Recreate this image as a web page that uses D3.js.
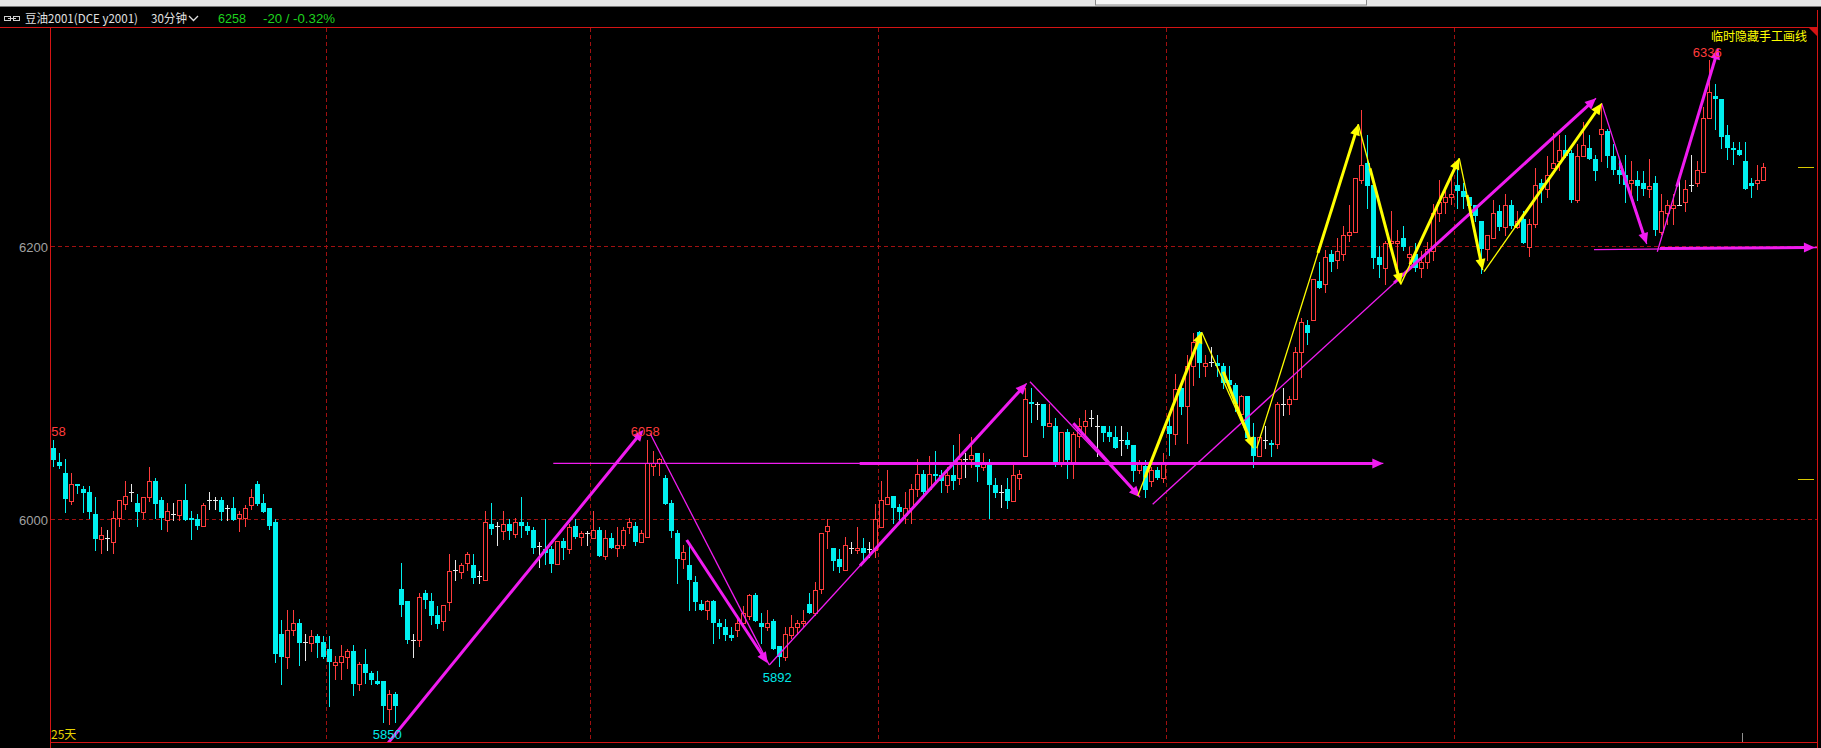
<!DOCTYPE html>
<html><head><meta charset="utf-8">
<script src="https://cdn.jsdelivr.net/npm/d3@7"></script>
<style>html,body{margin:0;padding:0;background:#000;overflow:hidden}svg{display:block}</style>
</head><body>
<script>
// ---------- data (30-minute bars, 豆油2001) ----------
const openP = [6052,6042,6034,6013,6026,6022,6020,6004,5985,5986,5983,6001,6011,6020,6012,6005,6016,6028,6014,5999,6004,6003,6014,6001,6000,5995,6014,6014,6014,6008,6008,6001,6001,6010,6026,6012,6008,
5998,5916,5899,5919,5924,5910,5909,5914,5910,5905,5893,5895,5899,5903,5879,5894,5887,5881,5881,5861,5872,5949,5940,5911,5911,5946,5940,5930,5925,5939,5963,5961,5968,5966,5958,5955,5996,5995,5991,5996,5989,
5998,5995,5992,5980,5978,5978,5967,5984,5978,5995,5987,5990,5986,5992,5973,5986,5979,5981,5994,5995,5983,5987,6039,6041,6030,6012,5990,5971,5966,5954,5938,5933,5940,5924,5921,5915,5919,5924,5929,5944,5924,5921,5925,5907,5899,5915,5921,5924,5938,5931,5949,5991,5979,5971,5963,
5979,5977,5979,5978,5977,5994,6011,6017,6009,6003,6008,6022,6033,6022,6033,6032,6025,6032,6030,6044,6044,6048,6038,6042,6025,6020,6022,6013,6030,6046,6086,6084,6084,6068,6068,6041,6064,6041,6061,6068,6074,6068,6068,6064,6060,6058,6058,6054,6036,6039,6028,6036,6030,
6068,6062,6096,6083,6112,6137,6112,6115,6114,6112,6102,6098,6077,6090,6060,6046,6058,6056,6055,6084,6084,6088,6122,6142,6146,6174,6172,6194,6190,6194,6208,6210,6248,6261,6245,6192,6184,6202,6202,6206,6192,6194,6184,6188,6196,6224,6232,6236,
6245,6240,6236,6230,6218,6198,6206,6226,6214,6230,6214,6220,6199,6216,6246,6242,6257,6262,6270,6268,6234,6266,6272,6264,6282,6284,6266,6256,6252,6246,6248,6246,6242,6246,6210,6224,6228,6230,6232,6245,6246,6254,6294,6310,6308,6281,6272,6270,6262,6246,6246,6248];
const highP = [6058,6048,6044,6034,6026,6024,6024,6016,5994,5992,6006,6014,6028,6026,6018,6016,6038,6030,6016,6012,6012,6014,6026,6006,6004,6012,6020,6016,6016,6010,6016,6006,6010,6022,6028,6018,6008,
6000,5926,5933,5933,5927,5916,5919,5916,5914,5914,5900,5908,5905,5908,5895,5905,5889,5889,5881,5875,5873,5968,5940,5916,5946,5948,5946,5936,5937,5974,5970,5968,5976,5974,5962,6006,6012,5998,6006,6000,6001,
6016,5998,5994,5983,6000,5980,5984,5986,5996,6000,5991,5991,6006,5994,5992,5990,5994,5994,6001,5998,5992,6058,6050,6045,6032,6014,5992,5981,5982,5958,5941,5941,5941,5927,5927,5921,5930,5936,5945,5946,5931,5933,5927,5907,5921,5930,5926,5933,5946,5954,5990,6000,5979,5978,5987,
5983,5994,5986,5983,6011,6028,6036,6017,6011,6020,6026,6044,6036,6046,6050,6036,6038,6054,6062,6048,6060,6048,6048,6044,6030,6025,6030,6042,6036,6096,6096,6086,6084,6084,6074,6064,6066,6064,6074,6080,6080,6076,6068,6068,6068,6068,6064,6054,6043,6043,6038,6038,6048,
6077,6106,6098,6120,6136,6138,6120,6126,6120,6114,6112,6100,6091,6090,6070,6060,6068,6058,6086,6096,6090,6126,6147,6146,6176,6188,6197,6197,6206,6215,6230,6250,6300,6281,6245,6200,6204,6226,6212,6215,6199,6202,6196,6203,6231,6248,6240,6250,
6263,6246,6236,6230,6218,6208,6234,6230,6238,6234,6226,6226,6220,6257,6249,6266,6283,6281,6281,6270,6275,6291,6281,6267,6304,6286,6275,6263,6267,6262,6255,6255,6264,6251,6238,6234,6238,6248,6248,6267,6262,6302,6336,6319,6308,6289,6276,6276,6276,6250,6259,6261];
const lowP = [6039,6037,6005,6011,6019,6005,6001,5977,5975,5977,5975,5995,6007,6013,5995,6001,6013,6001,5993,5991,5999,5999,5999,5985,5993,5995,6007,6007,5999,5999,5999,5991,5995,6007,6010,6005,5993,
5895,5879,5891,5915,5893,5897,5903,5899,5898,5863,5883,5883,5891,5871,5875,5880,5879,5879,5851,5850,5851,5929,5909,5899,5907,5935,5923,5920,5919,5933,5955,5957,5963,5953,5953,5955,5989,5981,5985,5985,5987,
5987,5989,5975,5965,5967,5961,5967,5971,5975,5986,5981,5981,5986,5973,5971,5979,5973,5979,5990,5981,5983,5987,6032,6032,6011,5987,5953,5964,5933,5933,5933,5927,5909,5913,5911,5911,5914,5921,5927,5925,5909,5919,5905,5892,5897,5913,5916,5921,5931,5930,5946,5979,5963,5961,5963,
5975,5975,5970,5972,5972,5994,6011,5997,5997,5997,5997,6017,6017,6022,6028,6020,6020,6022,6026,6031,6038,6028,6036,6001,6016,6009,6008,6013,6022,6046,6071,6073,6060,6068,6039,6039,6030,6030,6053,6062,6068,6046,6057,6057,6052,6047,6052,6028,6034,6016,6024,6029,6027,
6047,6055,6077,6056,6098,6104,6105,6112,6105,6096,6096,6079,6075,6057,6038,6046,6052,6046,6052,6076,6077,6088,6104,6128,6146,6169,6166,6182,6184,6190,6204,6210,6246,6228,6184,6177,6172,6200,6182,6197,6184,6182,6177,6184,6190,6218,6224,6231,
6228,6228,6223,6218,6180,6190,6206,6212,6208,6213,6213,6202,6193,6214,6232,6236,6257,6256,6265,6232,6232,6266,6264,6248,6262,6258,6253,6246,6232,6236,6234,6237,6236,6208,6209,6216,6216,6230,6226,6240,6244,6254,6294,6286,6272,6264,6260,6267,6242,6236,6242,6248];
const closeP = [6043,6039,6015,6026,6024,6019,6005,5985,5988,5986,6001,6014,6017,6020,6005,6016,6028,6011,6001,6006,6004,6014,5999,5999,5995,6010,6014,6014,6005,6008,5999,6004,6008,6016,6011,6005,5995,
5901,5899,5919,5924,5909,5910,5914,5909,5899,5895,5895,5900,5903,5879,5894,5887,5882,5879,5863,5872,5863,5937,5911,5911,5943,5941,5929,5923,5937,5962,5963,5966,5974,5957,5958,5998,5993,5995,5996,5991,5998,
5995,5991,5979,5980,5975,5967,5984,5979,5994,5987,5990,5990,5992,5973,5986,5979,5981,5992,5998,5983,5990,6041,6041,6044,6011,5991,5971,5976,5955,5939,5933,5940,5924,5921,5915,5913,5924,5931,5944,5925,5921,5924,5905,5899,5916,5921,5924,5925,5931,5948,5990,5995,5969,5965,5981,
5979,5979,5975,5978,6000,6014,6016,6008,6005,6008,6022,6033,6020,6033,6032,6028,6032,6028,6044,6044,6047,6038,6042,6025,6019,6020,6013,6032,6033,6088,6084,6084,6068,6070,6041,6064,6043,6062,6068,6072,6074,6068,6063,6060,6052,6058,6054,6035,6040,6021,6036,6030,6040,
6062,6095,6082,6112,6130,6114,6114,6115,6112,6100,6098,6084,6090,6059,6046,6060,6058,6054,6084,6084,6088,6122,6144,6136,6176,6169,6192,6188,6196,6208,6210,6250,6259,6244,6191,6186,6202,6204,6204,6199,6194,6184,6188,6198,6224,6232,6236,6238,
6240,6236,6229,6222,6198,6208,6224,6214,6230,6215,6218,6202,6216,6245,6242,6252,6261,6270,6266,6234,6266,6274,6264,6255,6286,6266,6256,6252,6245,6248,6244,6242,6244,6212,6226,6230,6230,6230,6242,6245,6256,6294,6313,6308,6280,6272,6270,6267,6242,6244,6248,6258];

const yTicks = [6000, 6200];
const weekBreaks = [45.5, 89.5, 137.5, 185.5, 233.5];       // between bars
// extreme labels: [bar index, price, "up"/"down", colour]
const extremeLabels = [[0,6058,"up","#ff3c3c"],[56,5850,"down","#00e8e8"],[99,6058,"up","#ff3c3c"],[121,5892,"down","#00e8e8"],[276,6336,"up","#ff3c3c"]];
// hand-drawn lines in data space: [bar1, price1, bar2, price2]
const magentaThin = [[99.45,6062.8,119.33,5893.0],[119.33,5893.0,162.23,6099.4],[162.78,6100.6,181.12,6015.9],
  [83.33,6040.7,221.67,6040.7],[183.23,6010.8,257.12,6308.2],[258.07,6304.5,265.57,6201.5],[267.33,6195.8,277.5,6344.8],[256.78,6197.4,293.95,6198.9]];
const magentaArrows = [[55.45,5834,98.33,6065.2],[105.57,5984.6,119.07,5894.3],[134.45,5965.8,162.23,6099.4],[170.0,6070.1,181.12,6015.9],
  [134.4,6040.7,221.67,6040.7],[223.45,6172.9,257.12,6308.2],[261.12,6260.6,265.57,6201.5],[270.57,6243.5,277.5,6344.8],[267.78,6198.2,293.6,6198.9]];
const yellowThin = [[180.73,6016.8,191.4,6136.8],[191.4,6136.8,200.0,6051.8],[200.57,6051.8,217.5,6289.2],[217.5,6289.2,224.57,6171.9],
  [224.57,6171.9,234.33,6264.2],[234.33,6264.2,238.23,6182.4],[238.45,6181.2,258.07,6304.5]];
const yellowArrows = [[181.95,6030.5,191.4,6136.8],[195.0,6107.9,200.0,6051.8],[210.78,6195.0,217.5,6289.2],[219.45,6256.8,224.57,6171.9],
  [226.12,6186.6,234.33,6264.2],[235.62,6237.4,238.23,6182.4],[243.62,6213.6,258.07,6304.5]];
const rightMarks = [6258, 6029];

// ---------- layout ----------
const W = 1821, H = 748;
const pL = 50, pR = 1817, pT = 27, pB = 742;
const RED = "#ff3c3c", CYAN = "#00f0f0", WHITE = "#e8e8e8", FRAME = "#d41414", GRID = "#a01010";
const MAG = "#f01cf0", YEL = "#ffff00";

const n = openP.length;
const bars = d3.range(n).map(i => ({i, o: openP[i], h: highP[i], l: lowP[i], c: closeP[i]}));
const x = d3.scaleLinear().domain([0, n - 1]).range([53.3, 53.3 + 6 * (n - 1)]);
const y = d3.scaleLinear().domain([6000, 6200]).range([519, 246]);

const svg = d3.select("body").append("svg").attr("width", W).attr("height", H)
  .style("font-family", "'Liberation Sans', Arial, sans-serif");
svg.append("rect").attr("width", W).attr("height", H).attr("fill", "#000");

const defs = svg.append("defs");
defs.append("clipPath").attr("id", "plot").append("rect")
  .attr("x", pL + 1).attr("y", pT + 1).attr("width", pR - pL - 1).attr("height", pB - pT - 1);

// top window strip
svg.append("rect").attr("x", 0).attr("y", 0).attr("width", W).attr("height", 6).attr("fill", "#e6e6e6");
svg.append("rect").attr("x", 1095.5).attr("y", -1).attr("width", 271).attr("height", 6).attr("fill", "#f6f6f6").attr("stroke", "#8a8a8a");
svg.append("rect").attr("x", 0).attr("y", 6).attr("width", W).attr("height", 1).attr("fill", "#7a7a7a");

// header
const hdr = svg.append("g");
hdr.append("rect").attr("x", 4.5).attr("y", 16.5).attr("width", 6).attr("height", 4).attr("fill", "none").attr("stroke", "#d0d0d0");
hdr.append("rect").attr("x", 13.5).attr("y", 16.5).attr("width", 6).attr("height", 4).attr("fill", "none").attr("stroke", "#d0d0d0");
hdr.append("line").attr("x1", 8).attr("x2", 16).attr("y1", 18.5).attr("y2", 18.5).attr("stroke", "#d0d0d0");
const hf = "'Noto Sans CJK SC', 'Liberation Sans', sans-serif";
hdr.append("text").attr("x", 25).attr("y", 22.5).attr("fill", "#e0e0e0").attr("font-size", 12).attr("font-family", hf)
  .attr("textLength", 113).attr("lengthAdjust", "spacingAndGlyphs").text("豆油2001(DCE y2001)");
hdr.append("text").attr("x", 151).attr("y", 22.5).attr("fill", "#e0e0e0").attr("font-size", 12).attr("font-family", hf)
  .attr("textLength", 36).attr("lengthAdjust", "spacingAndGlyphs").text("30分钟");
hdr.append("polyline").attr("points", "189,16 193.5,20.5 198,16").attr("fill", "none").attr("stroke", "#e0e0e0").attr("stroke-width", 1.3);
hdr.append("text").attr("x", 218).attr("y", 22.5).attr("fill", "#1ed21e").attr("font-size", 13)
  .attr("textLength", 28).attr("lengthAdjust", "spacingAndGlyphs").text("6258");
hdr.append("text").attr("x", 263).attr("y", 22.5).attr("fill", "#1ed21e").attr("font-size", 13)
  .attr("textLength", 72).attr("lengthAdjust", "spacingAndGlyphs").text("-20 / -0.32%");

// grid
const grid = svg.append("g").attr("stroke", GRID).attr("stroke-dasharray", "4,3").attr("stroke-width", 1);
yTicks.forEach(p => grid.append("line").attr("x1", pL + 1).attr("x2", pR)
  .attr("y1", Math.round(y(p)) + 0.5).attr("y2", Math.round(y(p)) + 0.5));
weekBreaks.forEach(b => grid.append("line").attr("y1", pT + 1).attr("y2", pB)
  .attr("x1", Math.floor(x(b)) + 0.5).attr("x2", Math.floor(x(b)) + 0.5));

// y axis labels
const axis = svg.append("g").attr("transform", `translate(${pL},0)`)
  .call(d3.axisLeft(y).tickValues(yTicks).tickSize(0).tickPadding(2).tickFormat(d3.format("d")));
axis.select(".domain").remove();
axis.selectAll("text").attr("fill", "#a2a2a2").attr("font-size", 13).attr("dy", "0.42em")
  .attr("font-family", "'Liberation Sans', Arial, sans-serif");

// candles
const plot = svg.append("g").attr("clip-path", "url(#plot)");
const cg = plot.append("g");
bars.forEach(d => {
  const cx = Math.round(x(d.i));
  const yh = Math.round(y(d.h)), yl = Math.round(y(d.l));
  const yo = Math.round(y(d.o)), yc = Math.round(y(d.c));
  if (d.c === d.o) {
    cg.append("line").attr("x1", cx + 0.5).attr("x2", cx + 0.5).attr("y1", yh).attr("y2", yl + 1).attr("stroke", WHITE);
    cg.append("line").attr("x1", cx - 2).attr("x2", cx + 3).attr("y1", yc + 0.5).attr("y2", yc + 0.5).attr("stroke", WHITE);
  } else if (d.c > d.o) {
    const t = yc, b = Math.max(yo, yc + 2);
    cg.append("line").attr("x1", cx + 0.5).attr("x2", cx + 0.5).attr("y1", yh).attr("y2", t).attr("stroke", RED);
    cg.append("line").attr("x1", cx + 0.5).attr("x2", cx + 0.5).attr("y1", b + 1).attr("y2", yl + 1).attr("stroke", RED);
    cg.append("rect").attr("x", cx - 1.5).attr("y", t + 0.5).attr("width", 4).attr("height", b - t)
      .attr("fill", "#000").attr("stroke", RED).attr("stroke-width", 1);
  } else {
    cg.append("line").attr("x1", cx + 0.5).attr("x2", cx + 0.5).attr("y1", yh).attr("y2", yl + 1).attr("stroke", CYAN);
    cg.append("rect").attr("x", cx - 2).attr("y", yo).attr("width", 5).attr("height", Math.max(2, yc - yo)).attr("fill", CYAN);
  }
});

// hand-drawn lines
function seg(g, s, color, w) {
  g.append("line").attr("x1", x(s[0])).attr("y1", y(s[1])).attr("x2", x(s[2])).attr("y2", y(s[3]))
    .attr("stroke", color).attr("stroke-width", w);
}
function arrow(g, s, color, w) {
  const x1 = x(s[0]), y1 = y(s[1]), x2 = x(s[2]), y2 = y(s[3]);
  const dx = x2 - x1, dy = y2 - y1, len = Math.hypot(dx, dy), ux = dx / len, uy = dy / len;
  const hl = 11, hw = 5;
  const bx = x2 - ux * hl, by = y2 - uy * hl;
  g.append("line").attr("x1", x1).attr("y1", y1).attr("x2", bx + ux * 2).attr("y2", by + uy * 2)
    .attr("stroke", color).attr("stroke-width", w);
  g.append("path").attr("d", `M${x2},${y2}L${bx - uy * hw},${by + ux * hw}L${bx + uy * hw},${by - ux * hw}Z`).attr("fill", color);
}
const ann = plot.append("g");
magentaThin.forEach(s => seg(ann, s, MAG, 1.3));
magentaArrows.forEach(s => arrow(ann, s, MAG, 3));
yellowThin.forEach(s => seg(ann, s, YEL, 1.3));
yellowArrows.forEach(s => arrow(ann, s, YEL, 3));

// extreme labels
const lab = plot.append("g").attr("font-size", 13).attr("text-anchor", "middle");
extremeLabels.forEach(([i, p, pos, col]) => {
  lab.append("text").attr("x", x(i) - 2).attr("y", pos === "up" ? y(p) - 3.5 : y(p) + 15.5).attr("fill", col).text(String(p));
});

// right-hand marks
rightMarks.forEach(p => svg.append("line").attr("x1", 1798).attr("x2", 1814).attr("y1", Math.round(y(p)) + 0.5).attr("y2", Math.round(y(p)) + 0.5)
  .attr("stroke", "#d8c800"));

// frame
const fr = svg.append("g").attr("stroke", FRAME).attr("stroke-width", 1);
fr.append("line").attr("x1", 0).attr("x2", pR + 1).attr("y1", pT + 0.5).attr("y2", pT + 0.5);
fr.append("line").attr("x1", pL + 0.5).attr("x2", pL + 0.5).attr("y1", pT).attr("y2", H);
fr.append("line").attr("x1", pL).attr("x2", pR + 1).attr("y1", pB + 0.5).attr("y2", pB + 0.5);
fr.append("line").attr("x1", pR + 0.5).attr("x2", pR + 0.5).attr("y1", 10).attr("y2", H);
svg.append("path").attr("d", `M${pR - 9},${pT}L${pR},${pT}L${pR},${pT + 9}Z`).attr("fill", FRAME);
svg.append("line").attr("x1", 1742.5).attr("x2", 1742.5).attr("y1", 733).attr("y2", pB).attr("stroke", "#909090");

// captions
svg.append("text").attr("x", 1807).attr("y", 41).attr("text-anchor", "end").attr("fill", YEL).attr("font-size", 12)
  .attr("font-family", hf).text("临时隐藏手工画线");
svg.append("text").attr("x", 51).attr("y", 739).attr("fill", "#e6d200").attr("font-size", 12)
  .attr("font-family", hf).text("25天");
</script>
</body></html>
